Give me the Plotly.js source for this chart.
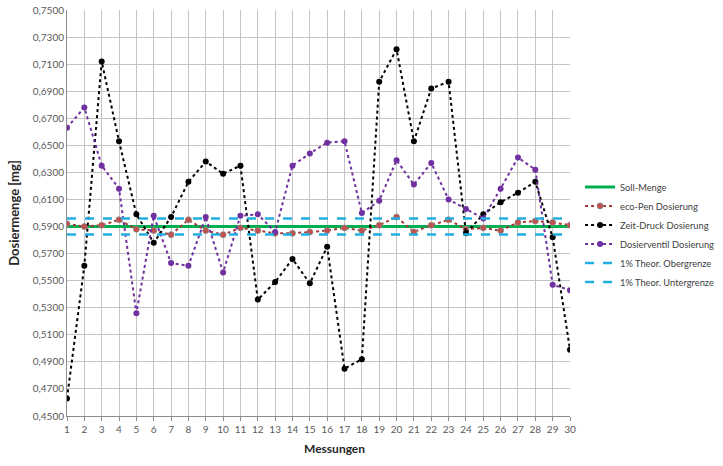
<!DOCTYPE html>
<html>
<head>
<meta charset="utf-8">
<script src="https://cdn.plot.ly/plotly-3.0.1.min.js"></script>
<style>html,body{margin:0;padding:0;background:#fff;}#chart{width:723px;height:466px;}</style>
</head>
<body>
<div id="chart"></div>
<script>
const messungen = [1,2,3,4,5,6,7,8,9,10,11,12,13,14,15,16,17,18,19,20,21,22,23,24,25,26,27,28,29,30];
const sollMenge = [0.590,0.590,0.590,0.590,0.590,0.590,0.590,0.590,0.590,0.590,0.590,0.590,0.590,0.590,0.590,0.590,0.590,0.590,0.590,0.590,0.590,0.590,0.590,0.590,0.590,0.590,0.590,0.590,0.590,0.590];
const ecoPen = [0.592,0.590,0.591,0.595,0.588,0.587,0.584,0.595,0.587,0.584,0.589,0.587,0.585,0.585,0.586,0.587,0.589,0.587,0.591,0.597,0.586,0.591,0.595,0.588,0.589,0.587,0.593,0.594,0.593,0.591];
const zeitDruck = [0.463,0.561,0.712,0.653,0.599,0.578,0.597,0.623,0.638,0.629,0.635,0.536,0.549,0.566,0.548,0.575,0.485,0.492,0.697,0.721,0.653,0.692,0.697,0.585,0.599,0.608,0.615,0.623,0.582,0.499];
const dosierventil = [0.663,0.678,0.635,0.618,0.526,0.598,0.563,0.561,0.597,0.556,0.598,0.599,0.586,0.635,0.644,0.652,0.653,0.600,0.609,0.639,0.621,0.637,0.610,0.603,0.596,0.618,0.641,0.632,0.547,0.543];
const obergrenze = [0.5959,0.5959,0.5959,0.5959,0.5959,0.5959,0.5959,0.5959,0.5959,0.5959,0.5959,0.5959,0.5959,0.5959,0.5959,0.5959,0.5959,0.5959,0.5959,0.5959,0.5959,0.5959,0.5959,0.5959,0.5959,0.5959,0.5959,0.5959,0.5959,0.5959];
const untergrenze = [0.5841,0.5841,0.5841,0.5841,0.5841,0.5841,0.5841,0.5841,0.5841,0.5841,0.5841,0.5841,0.5841,0.5841,0.5841,0.5841,0.5841,0.5841,0.5841,0.5841,0.5841,0.5841,0.5841,0.5841,0.5841,0.5841,0.5841,0.5841,0.5841,0.5841];
const seriesNames = ['Soll-Menge','eco-Pen Dosierung','Zeit-Druck Dosierung','Dosierventil Dosierung','1% Theor. Obergrenze','1% Theor. Untergrenze'];
const xTitle = 'Messungen';
const yTitle = 'Dosiermenge [mg]';

const traces = [
  {x: messungen, y: sollMenge, name: seriesNames[0], mode: 'lines', line: {color: '#00b050', width: 3}},
  {x: messungen, y: ecoPen, name: seriesNames[1], mode: 'lines+markers', line: {color: '#a33a36', width: 2, dash: 'dot'}, marker: {color: '#c0504d', size: 6, line: {color: '#8c8c8c', width: 0.8}}},
  {x: messungen, y: zeitDruck, name: seriesNames[2], mode: 'lines+markers', line: {color: '#000000', width: 2, dash: 'dot'}, marker: {color: '#000000', size: 6}},
  {x: messungen, y: dosierventil, name: seriesNames[3], mode: 'lines+markers', line: {color: '#7030a0', width: 2, dash: 'dot'}, marker: {color: '#7030a0', size: 6}},
  {x: messungen, y: obergrenze, name: seriesNames[4], mode: 'lines', line: {color: '#22aee0', width: 2.5, dash: 'dash'}},
  {x: messungen, y: untergrenze, name: seriesNames[5], mode: 'lines', line: {color: '#22aee0', width: 2.5, dash: 'dash'}}
];

const layout = {
  width: 723, height: 466,
  margin: {l: 67, r: 153, t: 10, b: 50, autoexpand: false},
  paper_bgcolor: '#ffffff', plot_bgcolor: '#ffffff',
  separators: ',.',
  font: {family: 'Lato, "Open Sans", sans-serif', size: 10, color: '#595959'},
  showlegend: true,
  legend: {x: 1.02, y: 0.60, xanchor: 'left', yanchor: 'top', font: {size: 9.3, color: '#404040'}, tracegroupgap: 0, itemwidth: 30, bgcolor: 'rgba(0,0,0,0)'},
  xaxis: {
    range: [1, 30], tickmode: 'array', tickvals: messungen, ticktext: messungen.map(String),
    showgrid: true, gridcolor: '#c4c4c4', gridwidth: 1,
    showline: true, linecolor: '#8c8c8c', linewidth: 1,
    ticks: 'outside', ticklen: 4, tickcolor: '#8c8c8c',
    zeroline: false, tickfont: {size: 10, color: '#595959'}
  },
  yaxis: {
    range: [0.45, 0.75], dtick: 0.02, tick0: 0.45, tickformat: '.4f',
    showgrid: true, gridcolor: '#c4c4c4', gridwidth: 1,
    showline: true, linecolor: '#8c8c8c', linewidth: 1,
    ticks: '', zeroline: false, tickfont: {size: 10, color: '#595959'},
    title: {text: yTitle, font: {size: 13, color: '#262626', family: 'Lato, sans-serif', weight: 'bold'}, standoff: 10}
  },
  annotations: [
    {text: '<b>' + xTitle + '</b>', xref: 'paper', yref: 'paper', x: 0.531, y: -0.081, xanchor: 'center', yanchor: 'middle', showarrow: false, font: {size: 12, color: '#262626', family: 'Lato, sans-serif'}}
  ]
};

Plotly.newPlot('chart', traces, layout, {displayModeBar: false, staticPlot: true});
</script>
</body>
</html>
